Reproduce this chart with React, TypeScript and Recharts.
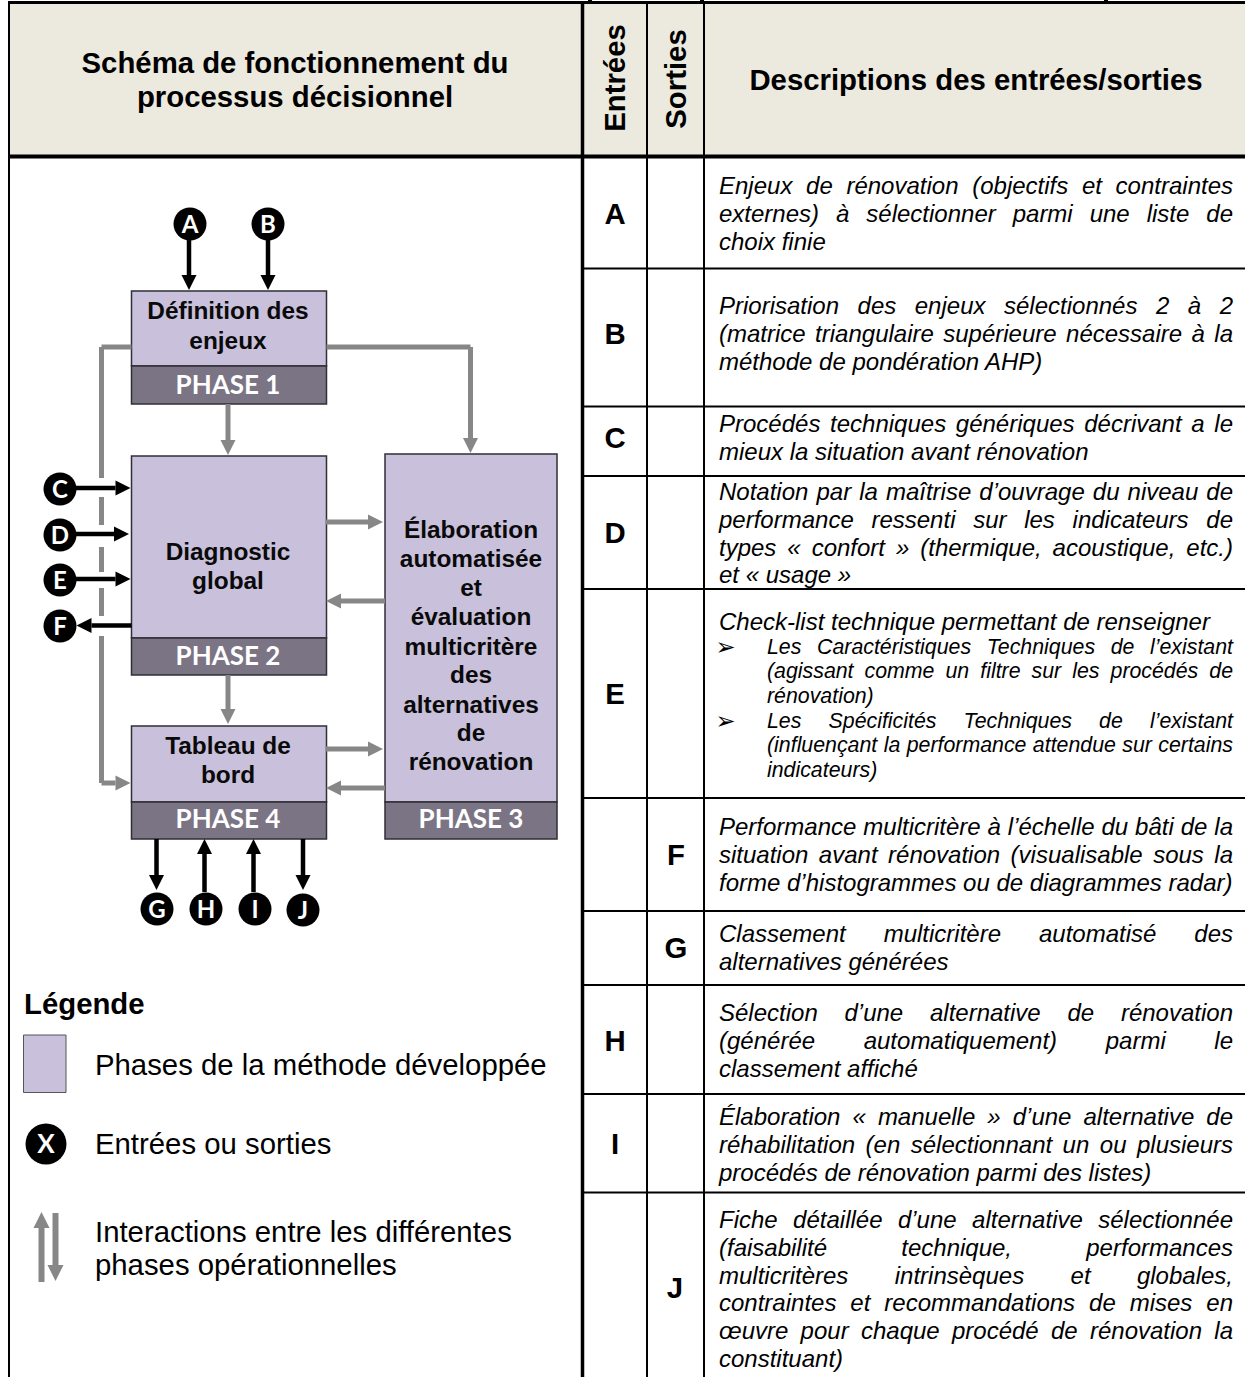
import { ScatterChart, Scatter, XAxis, YAxis, ReferenceArea, ReferenceLine } from 'recharts';

const WIDTH = 1245;
const HEIGHT = 1377;

// table grid
const rowEdges = [268.5, 406.5, 476, 589, 798, 911, 985, 1094, 1192.5];
const thinColumns = [647, 704];
const cropMarks = [588, 700, 1104];

const headerLabels = [
  { x: 295, y: 63, text: 'Schéma de fonctionnement du' },
  { x: 295, y: 97, text: 'processus décisionnel' },
  { x: 976, y: 80, text: 'Descriptions des entrées/sorties' },
];
const headerVertical = [
  { x: 614.5, y: 78, text: 'Entrées' },
  { x: 675.5, y: 79, text: 'Sorties' },
];
const rowLetters = [
  { x: 615, y: 214, text: 'A' },
  { x: 615, y: 334, text: 'B' },
  { x: 615, y: 438, text: 'C' },
  { x: 615, y: 533, text: 'D' },
  { x: 615, y: 694, text: 'E' },
  { x: 676, y: 855, text: 'F' },
  { x: 676, y: 948, text: 'G' },
  { x: 615, y: 1041, text: 'H' },
  { x: 615, y: 1144, text: 'I' },
  { x: 675, y: 1288, text: 'J' },
];

// description cells: first line y, then lines; the last line of a cell is not justified
const descriptionStart = [186, 306, 424, 492, 827, 934, 1013, 1117, 1220];
const descriptionText = [
  ['Enjeux de rénovation (objectifs et contraintes', 'externes) à sélectionner parmi une liste de', 'choix finie'],
  ['Priorisation des enjeux sélectionnés 2 à 2', '(matrice triangulaire supérieure nécessaire à la', 'méthode de pondération AHP)'],
  ['Procédés techniques génériques décrivant a le', 'mieux la situation avant rénovation'],
  ['Notation par la maîtrise d’ouvrage du niveau de', 'performance ressenti sur les indicateurs de', 'types « confort » (thermique, acoustique, etc.)', 'et « usage »'],
  ['Performance multicritère à l’échelle du bâti de la', 'situation avant rénovation (visualisable sous la', 'forme d’histogrammes ou de diagrammes radar)'],
  ['Classement multicritère automatisé des', 'alternatives générées'],
  ['Sélection d’une alternative de rénovation', '(générée automatiquement) parmi le', 'classement affiché'],
  ['Élaboration « manuelle » d’une alternative de', 'réhabilitation (en sélectionnant un ou plusieurs', 'procédés de rénovation parmi des listes)'],
  ['Fiche détaillée d’une alternative sélectionnée', '(faisabilité technique, performances', 'multicritères intrinsèques et globales,', 'contraintes et recommandations de mises en', 'œuvre pour chaque procédé de rénovation la', 'constituant)'],
];
const checklistTitle = [{ x: 719, y: 622, text: 'Check-list technique permettant de renseigner' }];
const checklistLines = [
  { x: 767, y: 647, text: 'Les Caractéristiques Techniques de l’existant', justify: true },
  { x: 767, y: 671, text: '(agissant comme un filtre sur les procédés de', justify: true },
  { x: 767, y: 696, text: 'rénovation)', justify: false },
  { x: 767, y: 721, text: 'Les Spécificités Techniques de l’existant', justify: true },
  { x: 767, y: 745, text: '(influençant la performance attendue sur certains', justify: true },
  { x: 767, y: 770, text: 'indicateurs)', justify: false },
];
const checklistBullets = [
  { x: 725.5, y: 647, text: '➢' },
  { x: 725.5, y: 721, text: '➢' },
];

const descriptionLines = descriptionText.flatMap((lines, i) =>
  lines.map((text, j) => ({
    x: 719,
    y: descriptionStart[i] + j * 27.75,
    text,
    justify: j < lines.length - 1,
  }))
);

// flow diagram
const phaseBoxes = [
  { x1: 131.5, x2: 326.5, y1: 291, y2: 366, y3: 404 },
  { x1: 131.5, x2: 326.5, y1: 456, y2: 638, y3: 675 },
  { x1: 131.5, x2: 326.5, y1: 726, y2: 802, y3: 839 },
  { x1: 385, x2: 557, y1: 454, y2: 802, y3: 839 },
];
const phaseNames = [
  { x: 228, y: 385, text: 'PHASE 1' },
  { x: 228, y: 656, text: 'PHASE 2' },
  { x: 228, y: 819, text: 'PHASE 4' },
  { x: 471, y: 819, text: 'PHASE 3' },
];
const boxLabels = [
  { x: 228, y: 311, text: 'Définition des' },
  { x: 228, y: 341, text: 'enjeux' },
  { x: 228, y: 552, text: 'Diagnostic' },
  { x: 228, y: 581, text: 'global' },
  { x: 228, y: 746, text: 'Tableau de' },
  { x: 228, y: 775, text: 'bord' },
  { x: 471, y: 530, text: 'Élaboration' },
  { x: 471, y: 559, text: 'automatisée' },
  { x: 471, y: 588, text: 'et' },
  { x: 471, y: 617, text: 'évaluation' },
  { x: 471, y: 647, text: 'multicritère' },
  { x: 471, y: 675, text: 'des' },
  { x: 471, y: 705, text: 'alternatives' },
  { x: 471, y: 733, text: 'de' },
  { x: 471, y: 762, text: 'rénovation' },
];
const ioCircles = [
  { x: 190, y: 224, text: 'A' },
  { x: 268, y: 224, text: 'B' },
  { x: 60, y: 489, text: 'C' },
  { x: 60, y: 535, text: 'D' },
  { x: 60, y: 580, text: 'E' },
  { x: 60, y: 626, text: 'F' },
  { x: 157, y: 909, text: 'G' },
  { x: 206, y: 909, text: 'H' },
  { x: 255, y: 909, text: 'I' },
  { x: 303, y: 910, text: 'J' },
];
const blackArrows = [
  [189, 240, 189, 290],
  [268, 240, 268, 290],
  [72, 488, 130.5, 488],
  [72, 534, 129, 534],
  [72, 579, 130.5, 579],
  [131.5, 625.5, 76.5, 625.5],
  [156.5, 839, 156.5, 890],
  [204.5, 892, 204.5, 839],
  [253.5, 892, 253.5, 839],
  [303, 839, 303, 890],
];
const grayArrows = [
  [228, 404, 228, 455],
  [470.5, 347, 470.5, 453],
  [325.5, 522, 383, 522],
  [385, 601, 326, 601],
  [228, 675, 228, 724],
  [325.5, 749, 383, 749],
  [385, 788, 326, 788],
  [101.5, 783, 130.5, 783],
];
const grayRuns = [
  [131.5, 347, 101.5, 347],
  [326.5, 347, 470.5, 347],
  [101.5, 347, 101.5, 478],
  [101.5, 497, 101.5, 525],
  [101.5, 547, 101.5, 572],
  [101.5, 588, 101.5, 616],
  [101.5, 636, 101.5, 783],
];

// legend
const legendTitle = [{ x: 24, y: 1004, text: 'Légende' }];
const legendLabels = [
  { x: 95, y: 1065, text: 'Phases de la méthode développée' },
  { x: 95, y: 1144, text: 'Entrées ou sorties' },
  { x: 95, y: 1232, text: 'Interactions entre les différentes' },
  { x: 95, y: 1265, text: 'phases opérationnelles' },
];
const legendCircle = [{ x: 46, y: 1144, text: 'X' }];
const legendArrows = [
  [41.5, 1282, 41.5, 1212],
  [55.5, 1213, 55.5, 1281],
];

const SANS = '"Liberation Sans", Arial, sans-serif';
const BASELINE = 0.34;
const measure = document.createElement('canvas').getContext('2d')!;

function textShape(opts: {
  size: number;
  weight?: string;
  italic?: boolean;
  anchor?: string;
  fill?: string;
  family?: string;
  rightEdge?: number;
}) {
  const { size, weight = 'normal', italic = false, anchor = 'start', fill = '#000', family = SANS, rightEdge } = opts;
  return (props: any) => {
    const { cx, cy, payload } = props;
    let wordSpacing = 0;
    if (rightEdge && payload.justify) {
      measure.font = `${italic ? 'italic ' : ''}${weight} ${size}px ${family}`;
      const gaps = payload.text.split(' ').length - 1;
      if (gaps > 0) wordSpacing = (rightEdge - cx - measure.measureText(payload.text).width) / gaps;
    }
    return (
      <text
        x={cx}
        y={cy + size * BASELINE}
        textAnchor={anchor}
        fontFamily={family}
        fontSize={size}
        fontWeight={weight}
        fontStyle={italic ? 'italic' : 'normal'}
        fill={fill}
        wordSpacing={wordSpacing}
      >
        {payload.text}
      </text>
    );
  };
}

function verticalShape(size: number) {
  return (props: any) => {
    const { cx, cy, payload } = props;
    return (
      <text
        transform={`translate(${cx + size * 0.36} ${cy}) rotate(-90)`}
        textAnchor="middle"
        fontFamily={SANS}
        fontSize={size}
        fontWeight="bold"
        fill="#000"
      >
        {payload.text}
      </text>
    );
  };
}

function circleShape(r: number, size: number) {
  return (props: any) => {
    const { cx, cy, payload } = props;
    return (
      <g>
        <circle cx={cx} cy={cy} r={r} fill="#000" />
        <text x={cx} y={cy + size * 0.36} textAnchor="middle" fontFamily="Lato, sans-serif" fontWeight="bold" fontSize={size} fill="#fff">
          {payload.text}
        </text>
      </g>
    );
  };
}

function arrowShape(color: string, width: number, headWidth: number, headLength: number) {
  return (props: any) => {
    const { x1, y1, x2, y2 } = props;
    const len = Math.hypot(x2 - x1, y2 - y1);
    const ux = (x2 - x1) / len;
    const uy = (y2 - y1) / len;
    const bx = x2 - ux * headLength;
    const by = y2 - uy * headLength;
    const h = headWidth / 2;
    return (
      <g>
        <line x1={x1} y1={y1} x2={bx} y2={by} stroke={color} strokeWidth={width} />
        <polygon points={`${x2},${y2} ${bx - uy * h},${by + ux * h} ${bx + uy * h},${by - ux * h}`} fill={color} />
      </g>
    );
  };
}

const segment = (s: number[]) => [
  { x: s[0], y: s[1] },
  { x: s[2], y: s[3] },
];

const PURPLE = '#c9c0db';
const BAND = '#7b7484';
const EDGE = '#2f2f35';
const GRAY = '#878787';

export default function App() {
  return (
    <div style={{ position: 'absolute', left: 0, top: 0, width: WIDTH, height: HEIGHT, background: '#fff' }}>
      <ScatterChart width={WIDTH} height={HEIGHT} margin={{ top: 0, right: 0, bottom: 0, left: 0 }}>
        <XAxis type="number" dataKey="x" domain={[0, WIDTH]} hide />
        <YAxis type="number" dataKey="y" domain={[0, HEIGHT]} reversed hide />

        {/* header band */}
        <ReferenceArea x1={9} x2={WIDTH} y1={3} y2={155} fill="#ece9df" fillOpacity={1} stroke="none" />

        {/* phase boxes */}
        {phaseBoxes.map((b, i) => (
          <ReferenceArea key={`p${i}`} x1={b.x1} x2={b.x2} y1={b.y1} y2={b.y2} fill={PURPLE} fillOpacity={1} stroke={EDGE} strokeWidth={1.5} />
        ))}
        {phaseBoxes.map((b, i) => (
          <ReferenceArea key={`b${i}`} x1={b.x1} x2={b.x2} y1={b.y2} y2={b.y3} fill={BAND} fillOpacity={1} stroke={EDGE} strokeWidth={1.5} />
        ))}
        <ReferenceArea x1={23.5} x2={66} y1={1035} y2={1092.5} fill={PURPLE} fillOpacity={1} stroke="#555" strokeWidth={1} />

        {/* grid */}
        <ReferenceLine segment={segment([8, 2.5, WIDTH, 2.5])} stroke="#000" strokeWidth={3} />
        <ReferenceLine segment={segment([8, 156.5, WIDTH, 156.5])} stroke="#000" strokeWidth={4} />
        <ReferenceLine segment={segment([9, 2, 9, HEIGHT])} stroke="#000" strokeWidth={2} />
        <ReferenceLine segment={segment([582.5, 2, 582.5, HEIGHT])} stroke="#000" strokeWidth={3.5} />
        {thinColumns.map((x) => (
          <ReferenceLine key={x} segment={segment([x, 2, x, HEIGHT])} stroke="#000" strokeWidth={2} />
        ))}
        {rowEdges.map((y) => (
          <ReferenceLine key={y} segment={segment([582, y, WIDTH, y])} stroke="#000" strokeWidth={2} />
        ))}
        {cropMarks.map((x) => (
          <ReferenceLine key={x} segment={segment([x, 0, x + 4, 0])} stroke="#000" strokeWidth={2} />
        ))}

        {/* connectors */}
        {grayRuns.map((s, i) => (
          <ReferenceLine key={`g${i}`} segment={segment(s)} stroke={GRAY} strokeWidth={5} />
        ))}
        {grayArrows.map((s, i) => (
          <ReferenceLine key={`ga${i}`} segment={segment(s)} shape={arrowShape(GRAY, 5, 15, 15)} />
        ))}
        {blackArrows.map((s, i) => (
          <ReferenceLine key={`ba${i}`} segment={segment(s)} shape={arrowShape('#000', 4.5, 15, 15)} />
        ))}
        {legendArrows.map((s, i) => (
          <ReferenceLine key={`la${i}`} segment={segment(s)} shape={arrowShape(GRAY, 6, 16, 16)} />
        ))}

        {/* texts and markers */}
        <Scatter data={headerLabels} shape={textShape({ size: 29.33, weight: 'bold', anchor: 'middle' })} isAnimationActive={false} />
        <Scatter data={headerVertical} shape={verticalShape(29.33)} isAnimationActive={false} />
        <Scatter data={rowLetters} shape={textShape({ size: 29.33, weight: 'bold', anchor: 'middle' })} isAnimationActive={false} />
        <Scatter data={descriptionLines} shape={textShape({ size: 24, italic: true, rightEdge: 1233 })} isAnimationActive={false} />
        <Scatter data={checklistTitle} shape={textShape({ size: 24, italic: true })} isAnimationActive={false} />
        <Scatter data={checklistLines} shape={textShape({ size: 21.33, italic: true, rightEdge: 1233 })} isAnimationActive={false} />
        <Scatter data={checklistBullets} shape={textShape({ size: 24, anchor: 'middle', family: '"DejaVu Sans"' })} isAnimationActive={false} />
        <Scatter data={phaseNames} shape={textShape({ size: 26, weight: 'bold', anchor: 'middle', fill: '#fff', family: 'Lato, sans-serif' })} isAnimationActive={false} />
        <Scatter data={boxLabels} shape={textShape({ size: 24.4, weight: 'bold', anchor: 'middle', fill: '#0a0a0a' })} isAnimationActive={false} />
        <Scatter data={ioCircles} shape={circleShape(16.5, 24)} isAnimationActive={false} />
        <Scatter data={legendTitle} shape={textShape({ size: 29.33, weight: 'bold' })} isAnimationActive={false} />
        <Scatter data={legendLabels} shape={textShape({ size: 29.33 })} isAnimationActive={false} />
        <Scatter data={legendCircle} shape={circleShape(20.5, 26)} isAnimationActive={false} />
      </ScatterChart>
    </div>
  );
}
